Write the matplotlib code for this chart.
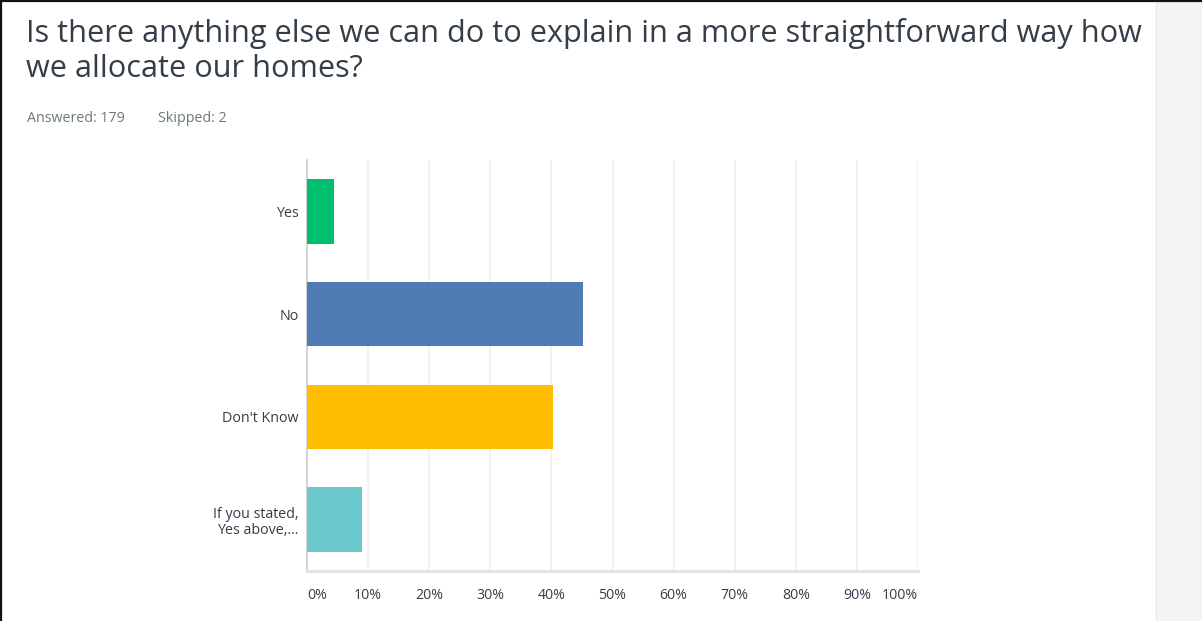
import matplotlib.pyplot as plt
from matplotlib.patches import Rectangle
from matplotlib.lines import Line2D

plt.rcParams['font.family'] = ['Open Sans', 'DejaVu Sans']

title = "Is there anything else we can do to explain in a more straightforward way how\nwe allocate our homes?"
answered = 179
skipped = 2

categories = ["Yes", "No", "Don't Know", "If you stated,\nYes above,..."]
percents = [4.47, 45.25, 40.22, 8.94]
colors = ['#00bf6f', '#507cb6', '#ffbf00', '#6bc8cd']
ticks = list(range(0, 101, 10))

fig = plt.figure(figsize=(12.02, 6.21), dpi=100)

# page frame: dark border on top/left, grey side panel on the right
fig.patches.append(Rectangle((1156 / 1202, 0), 46 / 1202, 1, transform=fig.transFigure,
                             facecolor='#f4f4f4', edgecolor='none', zorder=0))
fig.lines.append(Line2D([0, 1], [0.998, 0.998], transform=fig.transFigure, color='#111111', lw=1.6))
fig.lines.append(Line2D([0.001, 0.001], [0, 1], transform=fig.transFigure, color='#111111', lw=1.6))
fig.lines.append(Line2D([1156 / 1202, 1156 / 1202], [0, 0.997], transform=fig.transFigure,
                        color='#e6e6e6', lw=0.8))

fig.text(26 / 1202, 1 - 18 / 621, title, ha='left', va='top', fontsize=22.1,
         color='#333e48', linespacing=1.22)
fig.text(27 / 1202, 1 - 119 / 621, f"Answered: {answered}", ha='left', va='center',
         fontsize=10.3, color='#6b787f')
fig.text(158 / 1202, 1 - 119 / 621, f"Skipped: {skipped}", ha='left', va='center',
         fontsize=10.3, color='#6b787f')

ax = fig.add_axes([307 / 1202, 1 - 571 / 621, 611 / 1202, 411 / 621])
ypos = list(range(len(categories)))
ax.barh(ypos, percents, height=0.63, color=colors, zorder=3)
ax.set_xlim(0, 100)
ax.set_ylim(len(categories) - 0.5, -0.5)

ax.set_xticks(ticks)
ax.set_xticklabels([f"{t}%" for t in ticks], fontsize=10.2, color='#333e48')
labels = ax.get_xticklabels()
labels[0].set_horizontalalignment('left')
labels[-1].set_horizontalalignment('right')
ax.set_yticks(ypos)
ax.set_yticklabels(categories, fontsize=10.3, color='#333e48', linespacing=1.15)
ax.tick_params(length=0, axis='x', pad=12)
ax.tick_params(length=0, axis='y', pad=6)

ax.grid(axis='x', color='#efefef', lw=1.2, zorder=0)
for s in ['top', 'right']:
    ax.spines[s].set_visible(False)
ax.spines['left'].set_color('#cccccc')
ax.spines['left'].set_linewidth(1.2)
ax.spines['bottom'].set_color('#e2e2e2')
ax.spines['bottom'].set_linewidth(2)

fig.savefig('out.png', dpi=100)
